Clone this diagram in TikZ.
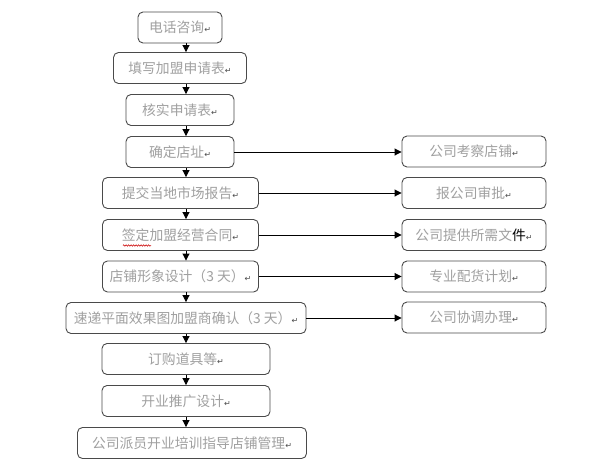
\documentclass[tikz,border=0pt]{standalone}
\usepackage{fontspec}
\setmainfont{Noto Sans CJK SC}
\newfontfamily\symfont{DejaVu Sans}
\usetikzlibrary{arrows.meta,decorations.pathmorphing}
\definecolor{txtgray}{HTML}{A0A0A0}
\definecolor{boxline}{HTML}{4A4A4A}
\newcommand{\rmark}{{\symfont\fontsize{8}{8}\selectfont\color{boxline}↵}}
\begin{document}
\begin{tikzpicture}[x=1pt,y=-1pt,
  flowbox/.style={draw=boxline,line width=0.9pt,rounded corners=5pt,inner sep=0pt,
    text=txtgray,font=\fontsize{13.8}{15}\selectfont,minimum height=31pt},
  arr/.style={-{Triangle[length=7pt,width=7pt]},line width=0.9pt,black}]
\useasboundingbox (0,0) rectangle (594,463);
\fill[white] (0,0) rectangle (594,463);
% main column
\node[flowbox,minimum width=84pt] (b1) at (180,27.5) {电话咨询\rmark};
\node[flowbox,minimum width=133pt] (b2) at (180,68) {填写加盟申请表\rmark};
\node[flowbox,minimum width=108pt] (b3) at (180,110) {核实申请表\rmark};
\node[flowbox,minimum width=108pt] (b4) at (180,152) {确定店址\rmark};
\node[flowbox,minimum width=156pt] (b5) at (180.5,193) {提交当地市场报告\rmark};
\node[flowbox,minimum width=156pt] (b6) at (180.5,235) {签定加盟经营合同\rmark};
\node[flowbox,minimum width=156pt] (b7) at (180.5,276.5) {店铺形象设计（3 天）\rmark};
\node[flowbox,minimum width=240pt] (b8) at (186,318) {速递平面效果图加盟商确认（3 天）\rmark};
\node[flowbox,minimum width=168pt] (b9) at (186,359) {订购道具等\rmark};
\node[flowbox,minimum width=168pt] (b10) at (186,401) {开业推广设计\rmark};
\node[flowbox,minimum width=229pt] (b11) at (192,443) {公司派员开业培训指导店铺管理\rmark};
% right column
\node[flowbox,minimum width=144pt] (r1) at (474,151.5) {公司考察店铺\rmark};
\node[flowbox,minimum width=144pt] (r2) at (474,193) {报公司审批\rmark};
\node[flowbox,minimum width=144pt] (r3) at (474,235) {公司提供所需文{\color{black}件}\rmark};
\node[flowbox,minimum width=144pt] (r4) at (474,276.5) {专业配货计划\rmark};
\node[flowbox,minimum width=144pt] (r5) at (474,317.5) {公司协调办理\rmark};
% red wavy spell-check underline under 签定
\draw[red!80!black,line width=0.5pt,decorate,decoration={zigzag,amplitude=0.8pt,segment length=2.5pt}]
  (123,245.5) -- (151,245.5);
% vertical arrows
\coordinate (ax) at (186,0);
\foreach \a/\b in {b1/b2,b2/b3,b3/b4,b4/b5,b5/b6,b6/b7,b7/b8,b8/b9,b9/b10,b10/b11}
  \draw[arr] (\a.south -| ax) -- (\b.north -| ax);
% horizontal arrows
\foreach \a/\b in {b4/r1,b5/r2,b6/r3,b7/r4,b8/r5}
  \draw[arr] (\a.east) -- (\b.west |- \a.east);
\end{tikzpicture}
\end{document}
